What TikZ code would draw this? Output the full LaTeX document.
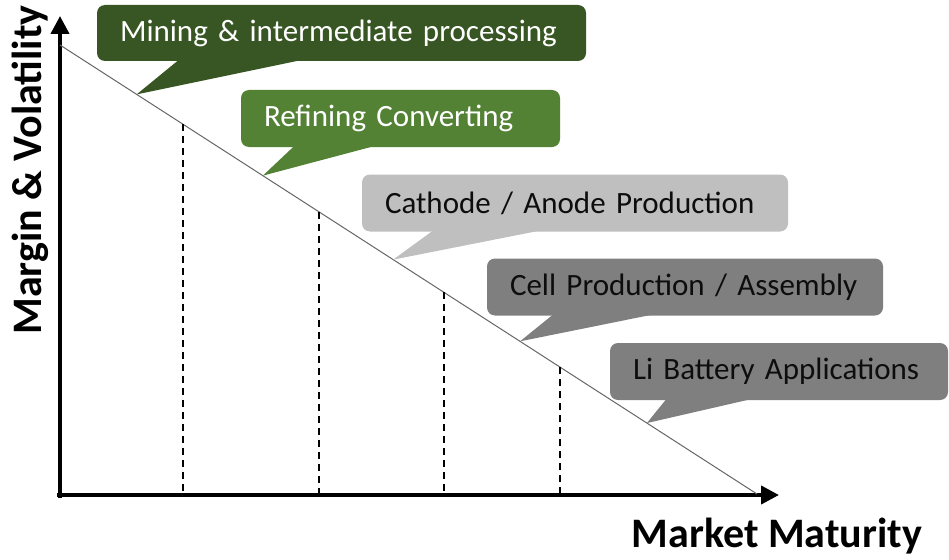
\documentclass[tikz,border=0pt]{standalone}
\usepackage{fontspec}
\setmainfont{Carlito}
\usepackage{tikz}
\usetikzlibrary{positioning,calc,arrows.meta}
\definecolor{minegreen}{HTML}{375623}
\definecolor{refgreen}{HTML}{548235}
\definecolor{lightgrey}{HTML}{BFBFBF}
\definecolor{midgrey}{HTML}{7F7F7F}
\definecolor{inkgrey}{HTML}{0D0D0D}
\tikzset{
bubble/.style={
  rectangle,
  rounded corners=8pt,
  inner xsep=23pt,
  inner ysep=0pt,
  minimum height=57pt,
  align=left,
  font=\fontsize{31}{35}\selectfont
},
axis/.style={line width=4pt, -{Triangle[length=18pt,width=18pt]}},
guide/.style={line width=1.4pt, dash pattern=on 7pt off 5pt},
trend/.style={line width=1pt, black!60},
axislabel/.style={font=\bfseries\fontsize{42}{46}\selectfont}
}

\begin{document}
\begin{tikzpicture}[x=1pt,y=-1pt]
            \useasboundingbox (0,0) rectangle (949,559);
            % axes
            \coordinate (origin) at (60,495);
            \coordinate (ytip) at (60,16);
            \coordinate (xtip) at (779,495);
            \draw[axis] (60,498) -- (ytip);
            \draw[axis] (57,495) -- (xtip);
            \node[axislabel, rotate=90] (ylab) at (30,170) {Margin \& Volatility};
            \node[axislabel] (xlab) at (777,536) {Market Maturity};
            % trend line
            \coordinate (top) at (60,45);
            \coordinate (bottom) at (757,494);
            \draw[trend] (top) -- (bottom);
            % stage borders
            \foreach \t [count=\i] in {0.1765,0.3716,0.5509,0.7174}
                \coordinate (d\i) at ($(top)!\t!(bottom)$);
            \foreach \i in {1,...,4}
                \draw[guide] (d\i) -- (d\i |- origin);
            % tips of the bubbles
            \coordinate (tmine) at ($(top)!0.110!(bottom)$);
            \coordinate (tref) at ($(top)!0.291!(bottom)$);
            \coordinate (tcath) at ($(top)!0.478!(bottom)$);
            \coordinate (tcell) at ($(top)!0.660!(bottom)$);
            \coordinate (tli) at ($(top)!0.842!(bottom)$);
            % bubbles
            \node[bubble, fill=minegreen, text=white, text width=443pt, minimum height=56pt] (mine) at (341.5,33) {Mining \& intermediate processing};
            \node[bubble, fill=refgreen, text=white, text width=273pt] (ref) at (400.5,118.5) {Refining Converting};
            \node[bubble, fill=lightgrey, text=inkgrey, text width=380pt] (cath) at (575,203) {Cathode / Anode Production};
            \node[bubble, fill=midgrey, text=inkgrey, text width=350pt] (cell) at (685,287) {Cell Production / Assembly};
            \node[bubble, fill=midgrey, text=inkgrey, text width=292pt] (li) at (779,371.5) {Li Battery Applications};
            \foreach \b/\tp/\c in {mine/tmine/minegreen, ref/tref/refgreen, cath/tcath/lightgrey, cell/tcell/midgrey, li/tli/midgrey}
                \fill[\c] ($(\b.south west)!1/6!(\b.south east)+(0,-1)$) -- (\tp)
                    -- ($(\b.south west)!5/12!(\b.south east)+(0,-1)$) -- cycle;
        \end{tikzpicture}
\end{document}
